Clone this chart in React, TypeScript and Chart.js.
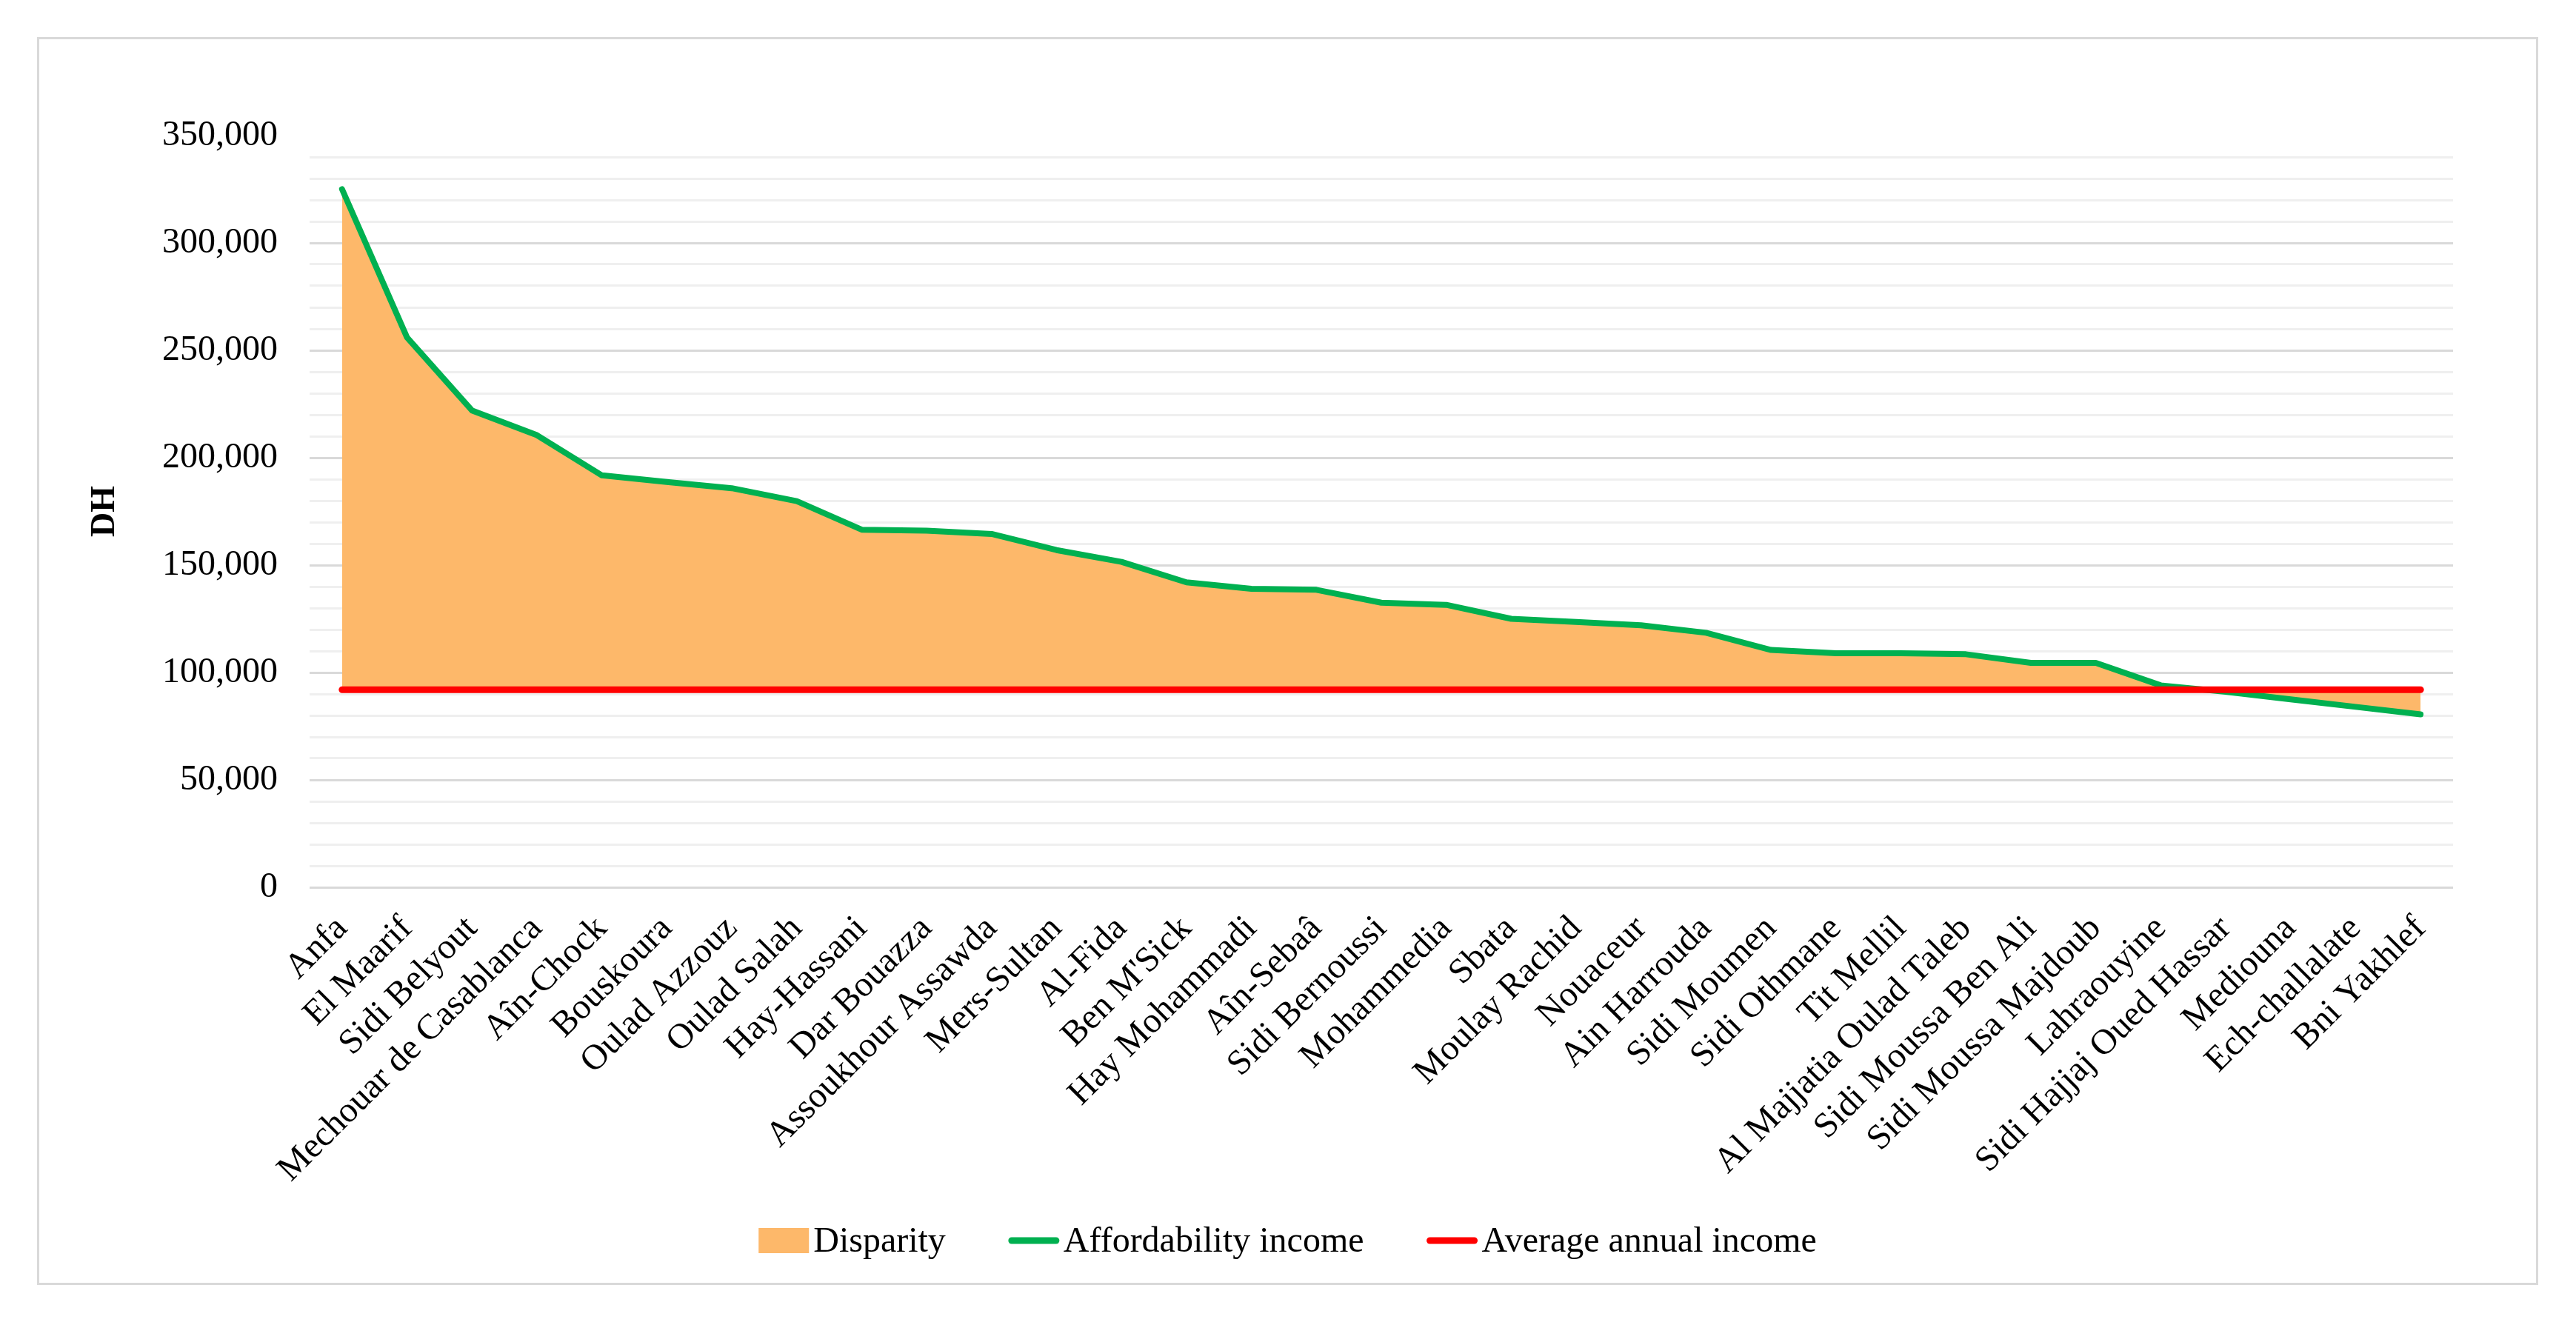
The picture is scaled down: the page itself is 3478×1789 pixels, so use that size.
import React, { useEffect, useRef } from 'react';
import Chart from 'chart.js/auto';

const categories = [
  'Anfa', 'El Maarif', 'Sidi Belyout', 'Mechouar de Casablanca', 'Aîn-Chock', 'Bouskoura',
  'Oulad Azzouz', 'Oulad Salah', 'Hay-Hassani', 'Dar Bouazza', 'Assoukhour Assawda', 'Mers-Sultan',
  'Al-Fida', "Ben M'Sick", 'Hay Mohammadi', 'Aîn-Sebaâ', 'Sidi Bernoussi', 'Mohammedia', 'Sbata',
  'Moulay Rachid', 'Nouaceur', 'Ain Harrouda', 'Sidi Moumen', 'Sidi Othmane', 'Tit Mellil',
  'Al Majjatia Oulad Taleb', 'Sidi Moussa Ben Ali', 'Sidi Moussa Majdoub', 'Lahraouyine',
  'Sidi Hajjaj Oued Hassar', 'Mediouna', 'Ech-challalate', 'Bni Yakhlef',
];

const affordabilityIncome = [
  325000, 256000, 222000, 210500, 191800, 188700, 185800, 179800, 166500, 166000, 164500, 157000,
  151500, 142000, 139000, 138500, 132500, 131500, 125000, 123500, 122000, 118500, 110500, 109000,
  109000, 108500, 104500, 104500, 94000, 91000, 87500, 84000, 80500,
];

const averageAnnualIncome = 92000;

const seriesLabels = ['Disparity', 'Affordability income', 'Average annual income'];
const yAxisTitle = 'DH';

const FONT = '"Liberation Serif", "Times New Roman", serif';
const ORANGE = '#fdb86a';
const GREEN = '#00b050';
const RED = '#ff0000';

const legendPlugin = {
  id: 'customLegend',
  afterDraw(chart: any) {
    const ctx = chart.ctx;
    ctx.save();
    ctx.font = `48px ${FONT}`;
    ctx.textBaseline = 'middle';
    ctx.textAlign = 'left';
    const items = [
      { type: 'box', color: ORANGE, text: seriesLabels[0] },
      { type: 'line', color: GREEN, text: seriesLabels[1] },
      { type: 'line', color: RED, text: seriesLabels[2] },
    ];
    const markerW = 68;
    const markerGap = 6;
    const itemGap = 85;
    const widths = items.map((it) => markerW + markerGap + ctx.measureText(it.text).width);
    const total = widths.reduce((a, b) => a + b, 0) + itemGap * (items.length - 1);
    let x = chart.width / 2 - total / 2;
    const y = chart.height - 57;
    items.forEach((it, i) => {
      if (it.type === 'box') {
        ctx.fillStyle = it.color;
        ctx.fillRect(x, y - 17, markerW, 34);
      } else {
        ctx.strokeStyle = it.color;
        ctx.lineWidth = 9;
        ctx.lineCap = 'round';
        ctx.beginPath();
        ctx.moveTo(x + 4, y);
        ctx.lineTo(x + markerW - 4, y);
        ctx.stroke();
      }
      ctx.fillStyle = '#000';
      ctx.fillText(it.text, x + markerW + markerGap, y + 2);
      x += widths[i] + itemGap;
    });
    ctx.restore();
  },
};

export default function App() {
  const canvasRef = useRef<HTMLCanvasElement | null>(null);

  useEffect(() => {
    if (!canvasRef.current) return;
    const tickFont = { family: FONT, size: 48 };
    const chart = new Chart(canvasRef.current, {
      type: 'line',
      data: {
        labels: categories,
        datasets: [
          {
            label: seriesLabels[1],
            data: affordabilityIncome,
            borderColor: GREEN,
            borderWidth: 8,
            pointRadius: 0,
            tension: 0,
            borderCapStyle: 'round',
            borderJoinStyle: 'round',
            fill: { target: 1, above: ORANGE, below: ORANGE },
            order: 1,
          },
          {
            label: seriesLabels[2],
            data: categories.map(() => averageAnnualIncome),
            borderColor: RED,
            borderWidth: 9,
            pointRadius: 0,
            borderCapStyle: 'round',
            fill: false,
            order: 0,
          },
        ],
      },
      options: {
        animation: false,
        responsive: true,
        maintainAspectRatio: false,
        layout: { padding: { top: 130, right: 112, left: 0, bottom: 0 } },
        plugins: { legend: { display: false }, tooltip: { enabled: false } },
        scales: {
          x: {
            offset: true,
            grid: { display: false },
            border: { display: false },
            ticks: {
              autoSkip: false,
              maxRotation: 45,
              minRotation: 45,
              font: tickFont,
              color: '#000',
              padding: 20,
            },
            afterFit: (s: any) => {
              s.height = 534;
            },
          },
          y: {
            min: 0,
            max: 350000,
            border: { display: false },
            grid: {
              drawTicks: false,
              lineWidth: 3,
              color: (c: any) => {
                const v = c.tick ? c.tick.value : 0;
                if (v >= 350000) return 'rgba(0,0,0,0)';
                return v % 50000 === 0 ? '#d9d9d9' : '#efefef';
              },
            },
            ticks: {
              stepSize: 10000,
              autoSkip: false,
              padding: 43,
              font: tickFont,
              color: '#000',
              callback: (v: any) => (Number(v) % 50000 === 0 ? Number(v).toLocaleString('en-US') : ''),
            },
            title: {
              display: true,
              text: yAxisTitle,
              color: '#000',
              font: { family: FONT, size: 46, weight: 'bold' },
              padding: { top: 62, bottom: 0 },
            },
            afterFit: (s: any) => {
              s.width = 365;
            },
          },
        },
      },
      plugins: [legendPlugin],
    } as any);
    return () => chart.destroy();
  }, []);

  return (
    <div style={{ position: 'fixed', left: 0, top: 0, width: 3478, height: 1789, background: '#fff' }}>
      <div
        style={{
          position: 'absolute',
          left: 50,
          top: 50,
          width: 3371,
          height: 1679,
          border: '3px solid #d9d9d9',
        }}
      >
        <canvas ref={canvasRef} />
      </div>
    </div>
  );
}
